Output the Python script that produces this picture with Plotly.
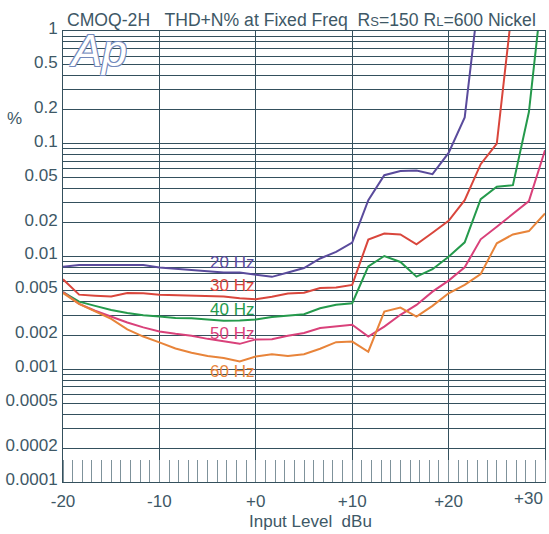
import plotly.graph_objects as go

# ---------------- data ----------------
input_dbu = [-20.0, -18.33, -16.67, -15.0, -13.33, -11.67, -10.0, -8.33, -6.67, -5.0,
             -3.33, -1.67, 0.0, 1.67, 3.33, 5.0, 6.67, 8.33, 10.0, 11.67,
             13.33, 15.0, 16.67, 18.33, 20.0, 21.67, 23.33, 25.0, 26.67, 28.33, 30.0]

thd_20hz = [0.0081, 0.0084, 0.0084, 0.0084, 0.0084, 0.0084, 0.0080, 0.0078, 0.0076, 0.0074,
            0.0072, 0.0072, 0.0069, 0.0066, 0.0072, 0.0079, 0.0096, 0.0110, 0.0133, 0.0316,
            0.0526, 0.0574, 0.058, 0.0537, 0.083, 0.171, 2.8]
thd_30hz = [0.00628, 0.00459, 0.00449, 0.00441, 0.00475, 0.00472, 0.00459, 0.00455, 0.0045, 0.00445,
            0.00441, 0.00427, 0.00418, 0.0044, 0.00469, 0.00478, 0.00526, 0.00532, 0.0056, 0.01413,
            0.0160, 0.0157, 0.01282, 0.01625, 0.02075, 0.0316, 0.0659, 0.1004, 1.85]
thd_40hz = [0.00483, 0.00398, 0.00365, 0.00336, 0.00316, 0.00301, 0.00293, 0.00285, 0.00283, 0.00277,
            0.00269, 0.0027, 0.00276, 0.0029, 0.00297, 0.00308, 0.00348, 0.00374, 0.00385, 0.00816,
            0.0101, 0.00894, 0.00663, 0.00771, 0.00996, 0.01336, 0.0323, 0.0415, 0.0429, 0.191, 3.8]
thd_50hz = [0.00483, 0.0038, 0.0033, 0.00292, 0.0026, 0.00235, 0.00216, 0.00206, 0.00198, 0.00186,
            0.00176, 0.00168, 0.00184, 0.00185, 0.00198, 0.0021, 0.00232, 0.00239, 0.00248, 0.00195,
            0.00239, 0.00304, 0.00372, 0.00488, 0.00611, 0.00802, 0.0142, 0.01836, 0.0241, 0.031, 0.0876]
thd_60hz = [0.00475, 0.0038, 0.00326, 0.0028, 0.00226, 0.00195, 0.00173, 0.00153, 0.0014, 0.00131,
            0.00126, 0.00117, 0.0013, 0.00136, 0.00131, 0.00136, 0.00152, 0.00174, 0.00176, 0.00143,
            0.00325, 0.00352, 0.00293, 0.00365, 0.00472, 0.0056, 0.007, 0.0131, 0.0157, 0.0168, 0.0241]

series_names = ["20 Hz", "30 Hz", "40 Hz", "50 Hz", "60 Hz"]
series_values = [thd_20hz, thd_30hz, thd_40hz, thd_50hz, thd_60hz]

x_tick_vals = [-20, -10, 0, 10, 20, 30]
x_tick_text = ["-20", "-10", "+0", "+10", "+20", ""]
y_tick_vals = [1, 0.5, 0.2, 0.1, 0.05, 0.02, 0.01, 0.005, 0.002, 0.001, 0.0005, 0.0002, 0.0001]
y_tick_text = ["1", "0.5", "0.2", "0.1", "0.05", "0.02", "0.01", "0.005", "0.002", "0.001",
               "0.0005", "0.0002", "0.0001"]
y_grid_vals = [m * d for d in (0.0001, 0.001, 0.01, 0.1) for m in range(1, 10)] + [1]

# ---------------- styles ----------------
colors = ["#5a4b9c", "#d9463c", "#259a4c", "#d9417a", "#e8843a"]
label_y_log = [-2.049, -2.261, -2.469, -2.681, -3.018]   # label positions (log10 units)
text_color = "#3e5866"
grid_color = "#34505d"
FONT = "Liberation Sans, Arial, sans-serif"

fig = go.Figure()
for name, vals, col in zip(series_names, series_values, colors):
    fig.add_trace(go.Scatter(x=input_dbu[:len(vals)], y=vals, mode="lines", name=name,
                             line=dict(color=col, width=2), showlegend=False))

annotations = []
for name, col, ly in zip(series_names, colors, label_y_log):
    annotations.append(dict(x=-5, y=ly, xref="x", yref="y", text=name, showarrow=False,
                            xanchor="left", yanchor="middle",
                            font=dict(family=FONT, size=17, color=col)))

annotations += [
    dict(x=0.004, y=1.025, xref="paper", yref="paper", xanchor="left", yanchor="middle",
         showarrow=False,
         text="CMOQ-2H   THD+N% at Fixed Freq  R<span style='font-size:13px'>S</span>=150 "
              "R<span style='font-size:13px'>L</span>=600 Nickel",
         font=dict(family=FONT, size=17.6, color=text_color)),
    dict(x=-0.0996, y=0.805, xref="paper", yref="paper", text="%", showarrow=False,
         xanchor="center", yanchor="middle", font=dict(family=FONT, size=17, color=text_color)),
    dict(x=0.5145, y=-0.088, xref="paper", yref="paper", text="Input Level  dBu", showarrow=False,
         xanchor="center", yanchor="middle", font=dict(family=FONT, size=17, color=text_color)),
    dict(x=1.0, y=-0.0365, xref="paper", yref="paper", text="+30", showarrow=False,
         xanchor="right", yanchor="middle", font=dict(family=FONT, size=17, color=text_color)),
    dict(x=0.008, y=0.957, xref="paper", yref="paper", text="Ap", showarrow=False,
         xanchor="left", yanchor="middle",
         font=dict(family=FONT, size=45, color="white", style="italic",
                   shadow="-1px -1px 0 #7389bb, 1px -1px 0 #7389bb, -1px 1px 0 #7389bb, 1px 1px 0 #7389bb")),
]

fig.update_layout(
    width=549, height=534,
    margin=dict(l=63, r=4, t=31, b=52),
    paper_bgcolor="white", plot_bgcolor="white",
    font=dict(family=FONT, size=17, color=text_color),
    annotations=annotations,
    xaxis=dict(range=[-20, 30], tickvals=x_tick_vals, ticktext=x_tick_text,
               showgrid=True, gridcolor=grid_color, gridwidth=1,
               showline=True, linecolor=grid_color, linewidth=1, mirror=True,
               ticks="", zeroline=False, ticklabelstandoff=4,
               tickfont=dict(family=FONT, size=17, color=text_color),
               minor=dict(dtick=1, ticks="inside", ticklen=22, tickcolor="#7f929b",
                          tickwidth=1, showgrid=False)),
    yaxis=dict(type="log", range=[-4, 0], tickvals=y_tick_vals, ticktext=y_tick_text,
               showgrid=True, gridcolor=grid_color, gridwidth=1,
               showline=True, linecolor=grid_color, linewidth=1, mirror=True,
               ticks="", zeroline=False, ticklabelshift=-3, ticklabelstandoff=1,
               tickfont=dict(family=FONT, size=17, color=text_color),
               minor=dict(tickvals=y_grid_vals, ticks="", showgrid=True,
                          gridcolor=grid_color, gridwidth=1)),
)

fig.write_html("out.html", config={"displayModeBar": False},
               post_script="document.body.style.margin='0';document.body.style.overflow='hidden';")
